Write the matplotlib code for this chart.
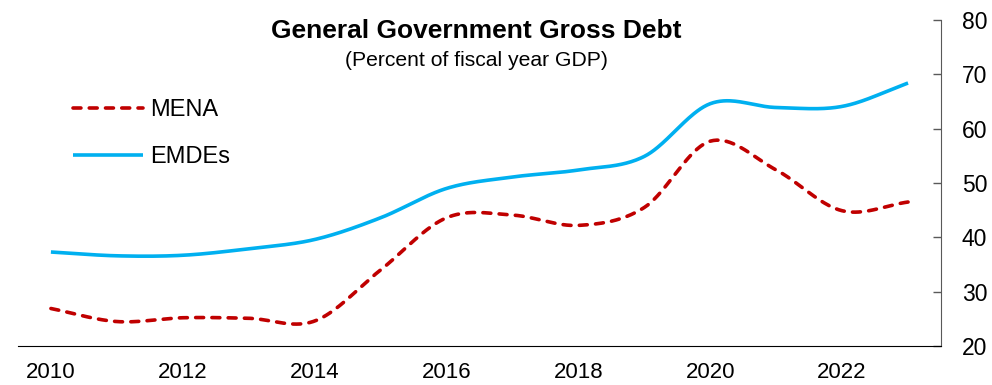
import numpy as np
import matplotlib.pyplot as plt

years = np.arange(2010, 2024)
mena = [26.9, 24.5, 25.2, 25.1, 24.6, 34.0, 43.6, 44.1, 42.2, 45.5, 57.7, 52.4, 44.9, 46.5]
emdes = [37.3, 36.6, 36.7, 37.9, 39.6, 43.6, 49.0, 51.1, 52.4, 54.9, 64.6, 63.9, 64.1, 68.4]

RED = "#C00000"
BLUE = "#00B0F0"


def smooth(x, y, n=40):
    # Catmull-Rom style curve through every point, like a spreadsheet smoothed line
    x = np.asarray(x, float)
    y = np.asarray(y, float)
    m = np.gradient(y, x)
    xs, ys = [], []
    for i in range(len(x) - 1):
        t = np.linspace(0, 1, n, endpoint=False)
        h = x[i + 1] - x[i]
        h00 = 2 * t**3 - 3 * t**2 + 1
        h10 = t**3 - 2 * t**2 + t
        h01 = -2 * t**3 + 3 * t**2
        h11 = t**3 - t**2
        xs.append(x[i] + t * h)
        ys.append(h00 * y[i] + h10 * h * m[i] + h01 * y[i + 1] + h11 * h * m[i + 1])
    xs.append([x[-1]])
    ys.append([y[-1]])
    return np.concatenate(xs), np.concatenate(ys)


plt.rcParams["font.family"] = ["Liberation Sans", "DejaVu Sans"]

fig = plt.figure(figsize=(9.92, 3.85), dpi=100)
ax = fig.add_axes([0.0181, 0.1013, 0.9305, 0.8467])

sx, sy = smooth(years, mena)
ax.plot(sx, sy, color=RED, lw=2.6, linestyle=(0, (2.2, 2.3)),
        dash_capstyle="round", label="MENA")
sx, sy = smooth(years, emdes)
ax.plot(sx, sy, color=BLUE, lw=2.6, solid_capstyle="butt", label="EMDEs")

ax.set_xlim(2009.5, 2023.5)
ax.set_ylim(20, 80)
ax.set_xticks(years[::2])
ax.set_yticks(np.arange(20, 81, 10))

ax.yaxis.tick_right()
ax.tick_params(axis="y", direction="in", length=6, width=1, color="#595959",
               labelsize=16.5, pad=15)
ax.tick_params(axis="x", length=0, labelsize=16, pad=11.5)

for side in ("top", "left"):
    ax.spines[side].set_visible(False)
ax.spines["right"].set_color("#595959")
ax.spines["bottom"].set_color("black")

fig.text(0.48, 0.919, "General Government Gross Debt", ha="center", va="center",
         fontsize=19, fontweight="bold")
fig.text(0.48, 0.844, "(Percent of fiscal year GDP)", ha="center", va="center",
         fontsize=15.2)

ax.legend(loc="upper left", bbox_to_anchor=(0.0736, 0.742), bbox_transform=fig.transFigure,
          frameon=False, fontsize=17, handlelength=2.97, handletextpad=0.3,
          labelspacing=1.05, borderpad=0, borderaxespad=0)

fig.savefig("out.png", dpi=100)
